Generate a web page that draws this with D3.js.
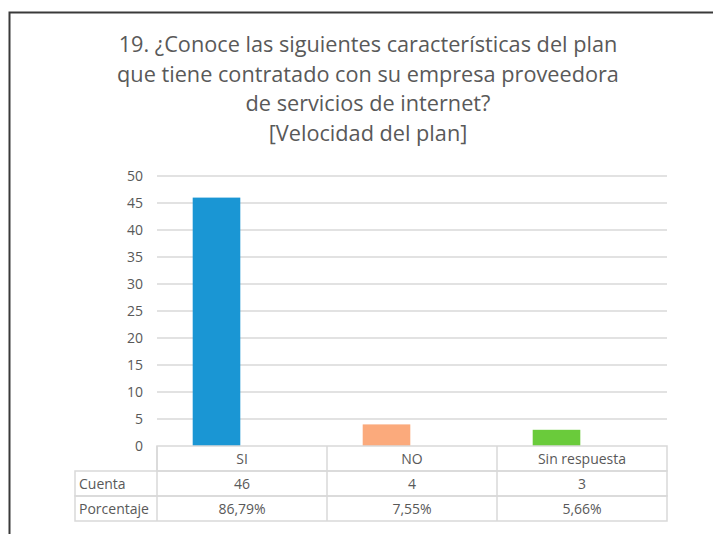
<!DOCTYPE html>
<html>

<head>
    <meta charset='utf-8'>
    <title>Velocidad del plan</title>
    <script type='text/javascript' src='https://cdn.jsdelivr.net/npm/d3@7'></script>
    <style>
        body { margin: 0; background: #fff; }
        text { font-family: 'Open Sans', sans-serif; fill: #595959; }
    </style>
</head>

<body>
    <svg width='713' height='534'></svg>
    <script type='text/javascript'>
        // datos
        const categorias = ['SI', 'NO', 'Sin respuesta']
        const cuenta = [46, 4, 3]
        const porcentaje = ['86,79%', '7,55%', '5,66%']
        const colores = ['#1a96d4', '#fbaa7c', '#6acb3b']
        const ticksY = [0, 5, 10, 15, 20, 25, 30, 35, 40, 45, 50]
        const titulo = [
            '19. ¿Conoce las siguientes características del plan',
            'que tiene contratado con su empresa proveedora',
            'de servicios de internet?',
            '[Velocidad del plan]'
        ]
        const filas = [['Cuenta', cuenta], ['Porcentaje', porcentaje]]

        const svg = d3.select('svg')

        // marco exterior
        svg.append('path')
            .attr('d', 'M9.5,534 V12.5 H713')
            .attr('fill', 'none')
            .attr('stroke', '#3a3a3a')
            .attr('stroke-width', 2)

        // titulo
        svg.append('g').selectAll('text').data(titulo)
            .enter().append('text')
            .attr('x', 368)
            .attr('y', (d, i) => 52 + i * 29.5)
            .attr('text-anchor', 'middle')
            .attr('font-size', 21.7)
            .text(d => d)

        const x = d3.scaleBand().domain(categorias).range([157, 667])
        const y = d3.scaleLinear().domain([0, 50]).range([446, 176])

        // lineas de cuadricula
        svg.append('g').selectAll('line').data(ticksY.slice(1))
            .enter().append('line')
            .attr('x1', 157).attr('x2', 667)
            .attr('y1', d => y(d)).attr('y2', d => y(d))
            .attr('stroke', '#d9d9d9')
            .attr('stroke-width', 1.5)

        // eje y
        const ejeY = svg.append('g')
            .attr('transform', 'translate(150,0)')
            .call(d3.axisLeft(y).tickValues(ticksY).tickSize(0).tickPadding(7))
        ejeY.select('.domain').remove()
        ejeY.selectAll('text')
            .attr('font-size', 14)
            .attr('font-family', "'Open Sans', sans-serif")
            .attr('fill', '#595959')

        // barras, desplazadas a la izquierda dentro de cada banda
        svg.append('g').selectAll('rect').data(categorias)
            .enter().append('rect')
            .attr('x', d => x(d) + x.bandwidth() * 0.21)
            .attr('width', x.bandwidth() * 0.28)
            .attr('y', (d, i) => y(cuenta[i]))
            .attr('height', (d, i) => y(0) - y(cuenta[i]))
            .attr('fill', (d, i) => colores[i])

        // tabla de datos
        const filaAlto = 25
        const tabla = svg.append('g').attr('fill', 'none').attr('stroke', '#d9d9d9').attr('stroke-width', 1.5)
        // encabezado
        tabla.append('rect').attr('x', 157).attr('y', 446).attr('width', 510).attr('height', filaAlto)
        // filas con etiqueta
        filas.forEach((f, i) => {
            tabla.append('rect').attr('x', 75).attr('y', 446 + filaAlto * (i + 1)).attr('width', 592).attr('height', filaAlto)
        })
        categorias.forEach((c, i) => {
            if (i > 0) {
                tabla.append('line').attr('x1', x(c)).attr('x2', x(c)).attr('y1', 446).attr('y2', 446 + filaAlto * 3)
            }
        })
        tabla.append('line').attr('x1', 157).attr('x2', 157).attr('y1', 446).attr('y2', 446 + filaAlto * 3)

        const txt = svg.append('g').attr('font-size', 14)
        txt.selectAll('.cat').data(categorias)
            .enter().append('text')
            .attr('class', 'cat')
            .attr('x', d => x(d) + x.bandwidth() / 2)
            .attr('y', 446 + filaAlto / 2 + 5)
            .attr('text-anchor', 'middle')
            .text(d => d)

        filas.forEach((f, i) => {
            const yy = 446 + filaAlto * (i + 1) + filaAlto / 2 + 5
            txt.append('text').attr('x', 79).attr('y', yy).text(f[0])
            txt.selectAll('.v' + i).data(f[1])
                .enter().append('text')
                .attr('class', 'v' + i)
                .attr('x', (d, j) => x(categorias[j]) + x.bandwidth() / 2)
                .attr('y', yy)
                .attr('text-anchor', 'middle')
                .text(d => d)
        })
    </script>
</body>

</html>
